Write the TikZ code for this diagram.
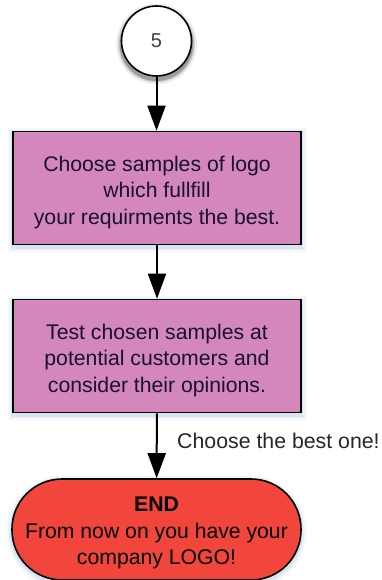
\documentclass[tikz,border=0pt]{standalone}
\usepackage{fontspec}
\setmainfont{Liberation Sans}
\usetikzlibrary{arrows.meta}
\definecolor{boxfill}{HTML}{D387BD}
\definecolor{endfill}{HTML}{F2463C}
\definecolor{glow}{HTML}{7FA8D0}
\definecolor{ink}{HTML}{1A1030}
\newcommand{\lowerfirst}[1]{\rule{0pt}{#1}}
\tikzset{
 px/.style={x=1pt,y=-1pt},
 softglow/.style={
  preaction={draw=glow,draw opacity=.07,line width=11pt,transform canvas={yshift=-2pt}},
  preaction={draw=glow,draw opacity=.10,line width=7pt,transform canvas={yshift=-2pt}},
  preaction={draw=glow,draw opacity=.14,line width=4pt,transform canvas={yshift=-2pt}}},
 darkglow/.style={
  preaction={draw=black,draw opacity=.06,line width=11pt,transform canvas={yshift=-3pt}},
  preaction={draw=black,draw opacity=.12,line width=7pt,transform canvas={yshift=-3pt}},
  preaction={draw=black,draw opacity=.25,line width=4pt,transform canvas={yshift=-3pt}}},
 flowtext/.style={font=\fontsize{21.2}{26.5}\selectfont},
 procbox/.style={flowtext,draw=black,line width=1.6pt,fill=boxfill,minimum width=288pt,minimum height=113pt,align=center,text=ink,softglow},
 flow/.style={draw=black,line width=2pt,-{Triangle[length=25pt,width=18pt]}}
}
\begin{document}
\begin{tikzpicture}[px]
\useasboundingbox (0,0) rectangle (381,580);
\fill[white] (0,0) rectangle (381,580);
\node[circle,draw=black,line width=1.6pt,fill=white,minimum size=70pt,inner sep=0pt,font=\fontsize{20}{24}\selectfont,text=black!75,darkglow] (five) at (156.5,41) {5};
\node[procbox] (a) at (157,188) {\lowerfirst{24pt}Choose samples of logo\\which fullfill\\your requirments the best.};
\node[procbox] (b) at (157,356) {\lowerfirst{24pt}Test chosen samples at\\potential customers and\\consider their opinions.};
\node[flowtext,draw=black,line width=1.6pt,fill=endfill,rectangle,rounded corners=50pt,minimum width=289pt,minimum height=101pt,inner sep=0pt,align=center,softglow] (e) at (156.5,529.5) {\lowerfirst{22pt}\textbf{END}\\From now on you have your\\company LOGO!};
\draw[flow] (five) -- (a.north -| five);
\draw[flow] (a) -- (b);
\draw[flow] (b) -- (e);
\node[font=\fontsize{21.3}{25}\selectfont,text=black!85,anchor=west,inner sep=0pt] (lab) at (177,441) {Choose the best one!};
\end{tikzpicture}
\end{document}
